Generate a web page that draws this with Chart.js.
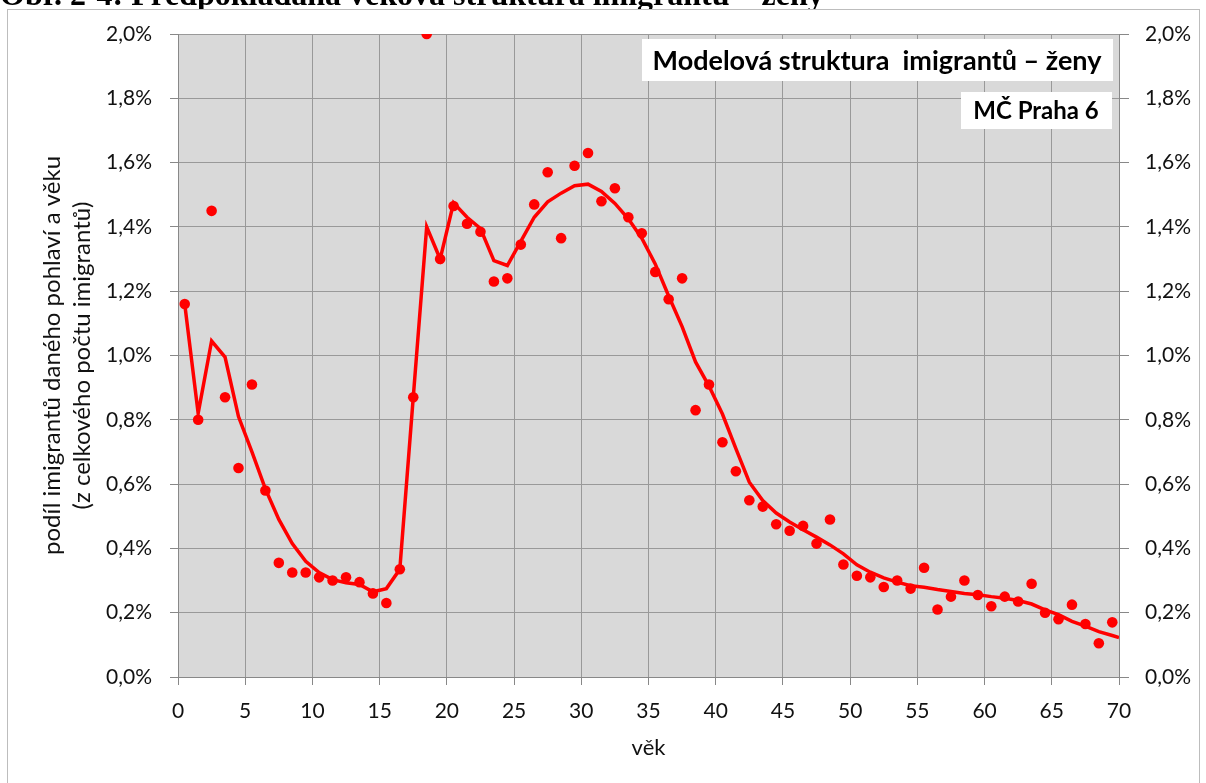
<!DOCTYPE html>
<html>
<head>
<meta charset="utf-8">
<script src="https://cdn.jsdelivr.net/npm/chart.js@4/dist/chart.umd.min.js"></script>
<style>
  body { margin: 0; background: #fff; }
  #wrap { position: relative; width: 1206px; height: 783px; overflow: hidden; }
  #caption { position: absolute; left: 0; top: 0; width: 1206px; height: 9px; overflow: hidden; }
  #caption span { position: absolute; left: 0px; top: -24px; white-space: nowrap;
    font: bold 32px "Liberation Serif", serif; color: #000; }
  canvas { position: absolute; left: 0; top: 0; }
</style>
</head>
<body>
<div id="wrap">
  <canvas id="chart" width="1206" height="783"></canvas>
  <div id="caption"><span>Obr. 2-4: Předpokládaná věková struktura imigrantů – ženy</span></div>
</div>
<script>
// vek (stred vekove skupiny)
const ages = [0.5,1.5,2.5,3.5,4.5,5.5,6.5,7.5,8.5,9.5,
  10.5,11.5,12.5,13.5,14.5,15.5,16.5,17.5,18.5,19.5,
  20.5,21.5,22.5,23.5,24.5,25.5,26.5,27.5,28.5,29.5,
  30.5,31.5,32.5,33.5,34.5,35.5,36.5,37.5,38.5,39.5,
  40.5,41.5,42.5,43.5,44.5,45.5,46.5,47.5,48.5,49.5,
  50.5,51.5,52.5,53.5,54.5,55.5,56.5,57.5,58.5,59.5,
  60.5,61.5,62.5,63.5,64.5,65.5,66.5,67.5,68.5,69.5]

// skutecny podil (body), v %
const observed = [1.16,0.80,1.45,0.87,0.65,0.91,0.58,0.355,0.325,0.325,
  0.31,0.30,0.31,0.295,0.26,0.23,0.335,0.87,2.00,1.30,
  1.465,1.41,1.385,1.23,1.24,1.345,1.47,1.57,1.365,1.59,
  1.63,1.48,1.52,1.43,1.38,1.26,1.175,1.24,0.83,0.91,
  0.73,0.64,0.55,0.53,0.475,0.455,0.47,0.415,0.49,0.35,
  0.315,0.31,0.28,0.30,0.275,0.34,0.21,0.25,0.30,0.255,
  0.22,0.25,0.235,0.29,0.20,0.18,0.225,0.165,0.105,0.17]

// modelova struktura (cara), v %
const modelAges = [0.5,1.5,2.5,3.5,4.5,5.5,6.5,7.5,8.5,9.5,
  10.5,11.5,12.5,13.5,14.5,15.5,16.5,17.5,18.5,19.5,
  20.5,21.5,22.5,23.5,24.5,25.5,26.5,27.5,28.5,29.5,
  30.5,31.5,32.5,33.5,34.5,35.5,36.5,37.5,38.5,39.5,
  40.5,41.5,42.5,43.5,44.5,45.5,46.5,47.5,48.5,49.5,
  50.5,51.5,52.5,53.5,54.5,55.5,56.5,57.5,58.5,59.5,
  60.5,61.5,62.5,63.5,64.5,65.5,66.5,67.5,68.5,69.5,70]
const model = [1.16,0.82,1.045,0.995,0.81,0.70,0.585,0.49,0.415,0.36,
  0.325,0.303,0.293,0.288,0.265,0.275,0.335,0.87,1.40,1.30,
  1.475,1.43,1.395,1.295,1.28,1.355,1.43,1.478,1.505,1.528,
  1.533,1.51,1.473,1.425,1.365,1.285,1.185,1.09,0.98,0.905,
  0.818,0.71,0.606,0.549,0.51,0.482,0.458,0.435,0.411,0.383,
  0.349,0.326,0.308,0.295,0.284,0.279,0.272,0.266,0.26,0.256,
  0.25,0.245,0.238,0.227,0.209,0.194,0.173,0.158,0.141,0.129,0.123]

const xTicks = [0,5,10,15,20,25,30,35,40,45,50,55,60,65,70]

const FONT = 'Lato'
const pct = v => v.toFixed(1).replace('.', ',') + '%'

const pozadi = {
  id: 'pozadi',
  beforeDraw(chart) {
    const {ctx, chartArea: a} = chart
    ctx.save()
    ctx.fillStyle = '#fff'
    ctx.fillRect(0, 0, chart.width, chart.height)
    ctx.strokeStyle = '#bdbdbd'
    ctx.lineWidth = 1
    ctx.strokeRect(7.5, 9.5, 1192, 800)
    ctx.fillStyle = '#d9d9d9'
    ctx.fillRect(a.left, a.top, a.right - a.left, a.bottom - a.top)
    ctx.restore()
  },
  afterDraw(chart) {
    const ctx = chart.ctx
    ctx.save()
    ctx.fillStyle = '#fff'
    ctx.fillRect(642, 39, 471, 42)
    ctx.fillRect(961, 92, 151, 37)
    ctx.fillStyle = '#000'
    ctx.textAlign = 'center'
    ctx.textBaseline = 'alphabetic'
    ctx.font = 'bold 27px ' + FONT
    ctx.fillText('Modelová struktura  imigrantů – ženy', 877, 70)
    ctx.font = 'bold 24px ' + FONT
    ctx.fillText('MČ Praha 6', 1036, 119)
    ctx.restore()
  }
}

new Chart(document.getElementById('chart'), {
  type: 'scatter',
  data: {
    datasets: [
      {
        label: 'model',
        data: modelAges.map((a, i) => ({x: a, y: model[i]})),
        showLine: true,
        borderColor: '#ff0000',
        borderWidth: 3.5,
        pointRadius: 0,
        tension: 0
      },
      {
        label: 'skutečnost',
        data: ages.map((a, i) => ({x: a, y: observed[i]})),
        backgroundColor: '#ff0000',
        borderWidth: 0,
        pointRadius: 5.3
      }
    ]
  },
  options: {
    responsive: false,
    animation: false,
    devicePixelRatio: 1,
    layout: { padding: { top: 34, left: 0, right: 0, bottom: 0 } },
    plugins: { legend: { display: false }, tooltip: { enabled: false } },
    scales: {
      x: {
        type: 'linear', min: 0, max: 70,
        afterBuildTicks: s => { s.ticks = xTicks.map(v => ({value: v})) },
        afterFit: s => { s.height = 106 },
        grid: { color: '#999', lineWidth: 1, tickLength: 8, tickColor: '#888' },
        border: { color: '#888' },
        ticks: { color: '#111', padding: 14, maxRotation: 0, font: { family: FONT, size: 21 } },
        title: { display: true, text: 'věk', color: '#111', padding: { top: 0, bottom: 22 },
          font: { family: FONT, size: 22 } }
      },
      y: {
        type: 'linear', position: 'left', min: 0, max: 2,
        afterFit: s => { s.width = 178 },
        grid: { color: '#999', lineWidth: 1, tickLength: 8, tickColor: '#888' },
        border: { color: '#888' },
        ticks: { stepSize: 0.2, color: '#111', padding: 18, callback: pct,
          font: { family: FONT, size: 21 } },
        title: { display: true, color: '#111',
          text: ['podíl imigrantů daného pohlaví a věku', '(z celkového počtu imigrantů)'],
          padding: { top: 37, bottom: 0 },
          font: { family: FONT, size: 24, lineHeight: '30px' } }
      },
      y2: {
        type: 'linear', position: 'right', min: 0, max: 2,
        afterFit: s => { s.width = 87 },
        grid: { drawOnChartArea: false, tickLength: 10, tickColor: '#888' },
        border: { color: '#888' },
        ticks: { stepSize: 0.2, color: '#111', padding: 16, callback: pct,
          font: { family: FONT, size: 21 } }
      }
    }
  },
  plugins: [pozadi]
})
</script>
</body>
</html>
